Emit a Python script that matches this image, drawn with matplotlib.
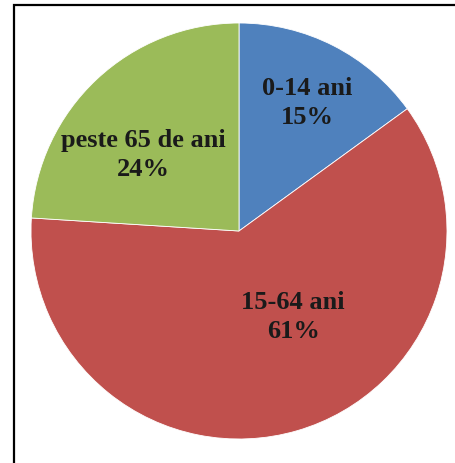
import matplotlib
matplotlib.use("Agg")
import matplotlib.pyplot as plt
from matplotlib.patches import Rectangle

# age groups and their shares (percent)
categories = ["0-14 ani", "15-64 ani", "peste 65 de ani"]
shares = [15, 61, 24]
colors = ["#4F81BD", "#C0504D", "#9BBB59"]

# label centres as fraction of pie radius (x, y), set by eye
label_pos = [(0.33, 0.62), (0.26, -0.41), (-0.46, 0.37)]

W, H = 455, 464
fig = plt.figure(figsize=(W / 100, H / 100), dpi=100)

# pie centre and radius in pixels (from top-left)
cx, cy, r = 239, 232, 208
ax = fig.add_axes([(cx - r) / W, (H - cy - r) / H, 2 * r / W, 2 * r / H])
ax.pie(shares, colors=colors, startangle=90, counterclock=False,
       radius=1.0, wedgeprops=dict(linewidth=0.6, edgecolor="white"))
ax.set_xlim(-1, 1)
ax.set_ylim(-1, 1)
ax.set_aspect("equal")
ax.axis("off")

for name, val, (lx, ly) in zip(categories, shares, label_pos):
    ax.text(lx, ly, f"{name}\n{val}%", ha="center", va="center",
            fontsize=19, fontweight="bold", family="Liberation Serif",
            color="#1a1a1a", linespacing=1.35)

# frame: only the left and top edges are inside the picture
fig.patches.append(Rectangle((14 / W, -0.1), 1.2, 1.1 - 6 / H,
                             transform=fig.transFigure, fill=False,
                             edgecolor="black", linewidth=1.6))

fig.savefig("out.png", dpi=100)
